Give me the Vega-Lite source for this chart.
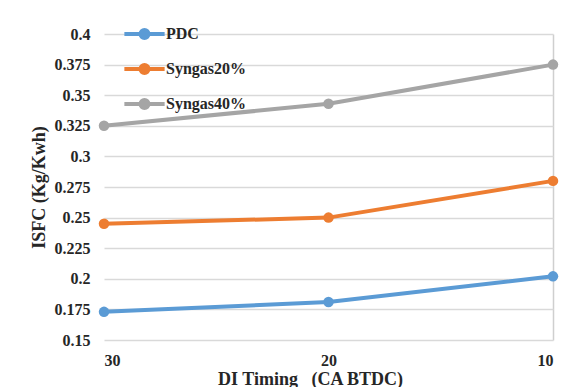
{
  "$schema": "https://vega.github.io/schema/vega-lite/v6.json",
  "autosize": "none",
  "width": 449,
  "height": 306,
  "padding": {"left": 104, "top": 34, "right": 33, "bottom": 47},
  "background": "white",
  "data": {
    "values": [
      {"timing": 30, "series": "PDC", "isfc": 0.173},
      {"timing": 20, "series": "PDC", "isfc": 0.181},
      {"timing": 10, "series": "PDC", "isfc": 0.202},
      {"timing": 30, "series": "Syngas20%", "isfc": 0.245},
      {"timing": 20, "series": "Syngas20%", "isfc": 0.25},
      {"timing": 10, "series": "Syngas20%", "isfc": 0.28},
      {"timing": 30, "series": "Syngas40%", "isfc": 0.325},
      {"timing": 20, "series": "Syngas40%", "isfc": 0.343},
      {"timing": 10, "series": "Syngas40%", "isfc": 0.375}
    ]
  },
  "mark": {"type": "line", "strokeWidth": 4, "point": {"filled": true, "size": 110, "opacity": 1}},
  "encoding": {
    "x": {
      "field": "timing",
      "type": "quantitative",
      "scale": {"domain": [10, 30], "reverse": true, "nice": false, "zero": false},
      "axis": {
        "values": [30, 20, 10],
        "format": "d",
        "title": "DI Timing\u00a0\u00a0 (CA BTDC)",
        "titleX": 206,
        "titleAlign": "center",
        "titleFontSize": 18,
        "titlePadding": 2,
        "labelPadding": 12,
        "domain": false,
        "ticks": false,
        "grid": true,
        "gridColor": "#cfcfcf",
        "gridWidth": 1.5,
        "gridOpacity": {"condition": {"test": "datum.value == 10", "value": 1}, "value": 0}
      }
    },
    "y": {
      "field": "isfc",
      "type": "quantitative",
      "scale": {"domain": [0.15, 0.4], "nice": false, "zero": false},
      "axis": {
        "values": [0.15, 0.175, 0.2, 0.225, 0.25, 0.275, 0.3, 0.325, 0.35, 0.375, 0.4],
        "format": ".3~f",
        "title": "ISFC (Kg/Kwh)",
        "titleFontSize": 18,
        "titlePadding": 6,
        "labelPadding": 14,
        "domain": false,
        "ticks": false,
        "grid": true,
        "gridColor": "#d9d9d9",
        "gridWidth": 1.5
      }
    },
    "color": {
      "field": "series",
      "type": "nominal",
      "scale": {"domain": ["PDC", "Syngas20%", "Syngas40%"], "range": ["#5B9BD5", "#ED7D31", "#A5A5A5"]},
      "legend": {
        "title": null,
        "orient": "none",
        "legendX": 21,
        "legendY": -19.5,
        "padding": 0,
        "rowPadding": 3,
        "symbolType": "M-1.15,0H1.15M-0.23,0A0.23,0.23,0,1,1,0.23,0A0.23,0.23,0,1,1,-0.23,0Z",
        "symbolSize": 1225,
        "symbolStrokeWidth": 4,
        "labelOffset": 2,
        "labelFont": "Liberation Serif",
        "labelFontWeight": "bold",
        "labelFontSize": 16,
        "labelColor": "#262626",
        "encode": {
          "symbols": {"update": {"fill": {"scale": "color", "field": "value"}, "stroke": {"scale": "color", "field": "value"}, "opacity": {"value": 1}}}
        }
      }
    }
  },
  "config": {
    "view": {"stroke": null},
    "axis": {
      "labelFont": "Liberation Serif",
      "labelFontWeight": "bold",
      "labelFontSize": 16,
      "labelColor": "#262626",
      "titleFont": "Liberation Serif",
      "titleFontWeight": "bold",
      "titleColor": "#262626"
    }
  }
}
